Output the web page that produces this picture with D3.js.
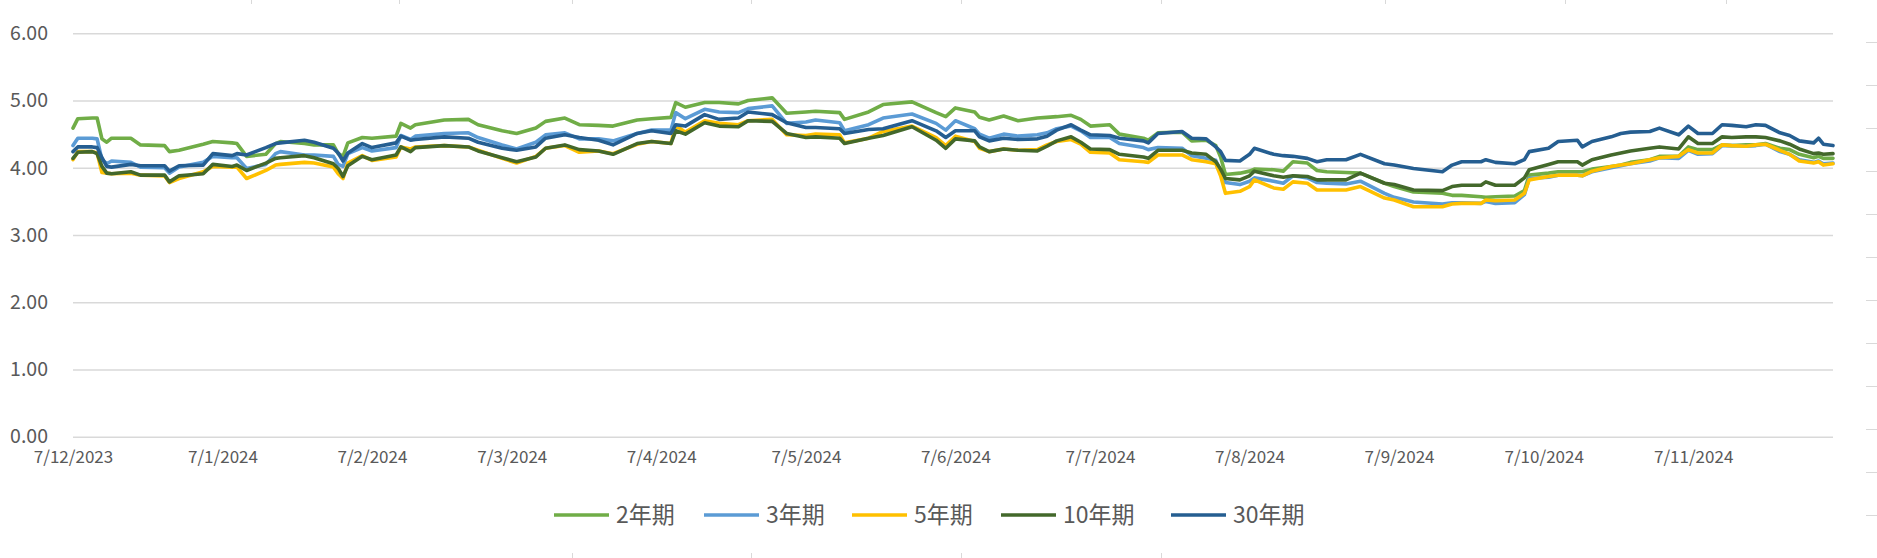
<!DOCTYPE html>
<html><head><meta charset="utf-8">
<script src="https://cdn.jsdelivr.net/npm/d3@7/dist/d3.min.js"></script>
<style>body{margin:0;background:#fff}svg{display:block}</style>
</head><body><svg id="c" width="1877" height="558"></svg>
<script>
const dates = [
"2023-12-07","2023-12-08","2023-12-11","2023-12-12","2023-12-13","2023-12-14","2023-12-15","2023-12-19","2023-12-21","2023-12-26","2023-12-27","2023-12-29",
"2024-01-03","2024-01-05","2024-01-09","2024-01-10","2024-01-12","2024-01-16","2024-01-18","2024-01-19","2024-01-24","2024-01-26","2024-01-30","2024-01-31",
"2024-02-01","2024-02-02","2024-02-05","2024-02-07","2024-02-12","2024-02-13","2024-02-15","2024-02-16","2024-02-22","2024-02-27","2024-02-29",
"2024-03-05","2024-03-08","2024-03-12","2024-03-14","2024-03-18","2024-03-21","2024-03-25","2024-03-28",
"2024-04-02","2024-04-05","2024-04-09","2024-04-10","2024-04-12","2024-04-16","2024-04-19","2024-04-23","2024-04-25","2024-04-30",
"2024-05-03","2024-05-07","2024-05-09","2024-05-14","2024-05-15","2024-05-20","2024-05-23","2024-05-29",
"2024-06-03","2024-06-05","2024-06-07","2024-06-11","2024-06-12","2024-06-14","2024-06-17","2024-06-20","2024-06-24","2024-06-26","2024-06-28",
"2024-07-01","2024-07-03","2024-07-05","2024-07-09","2024-07-11","2024-07-16","2024-07-17","2024-07-19","2024-07-24","2024-07-26","2024-07-29","2024-07-31",
"2024-08-01","2024-08-02","2024-08-05","2024-08-07","2024-08-08","2024-08-12","2024-08-14","2024-08-16","2024-08-19","2024-08-21","2024-08-23","2024-08-27","2024-08-30",
"2024-09-04","2024-09-06","2024-09-10","2024-09-16","2024-09-18","2024-09-20","2024-09-24","2024-09-25","2024-09-27",
"2024-10-01","2024-10-03","2024-10-04","2024-10-08","2024-10-10","2024-10-14","2024-10-15","2024-10-17","2024-10-21","2024-10-23","2024-10-25","2024-10-29","2024-10-31",
"2024-11-04","2024-11-06","2024-11-08","2024-11-11","2024-11-13","2024-11-15","2024-11-18","2024-11-20","2024-11-22","2024-11-25","2024-11-27","2024-11-29",
"2024-12-02","2024-12-03","2024-12-04","2024-12-06"];
const y2 = [
4.59,4.73,4.74,4.74,4.43,4.38,4.44,4.44,4.34,4.33,4.24,4.26,
4.35,4.39,4.37,4.36,4.17,4.20,4.36,4.39,4.36,4.34,4.34,4.21,
4.17,4.37,4.45,4.44,4.47,4.66,4.59,4.64,4.71,4.72,4.64,
4.55,4.51,4.59,4.69,4.74,4.64,4.63,4.62,
4.71,4.73,4.75,4.97,4.90,4.97,4.97,4.95,5.00,5.04,
4.81,4.83,4.84,4.82,4.72,4.83,4.94,4.98,
4.82,4.76,4.89,4.83,4.75,4.71,4.77,4.70,4.74,4.75,4.76,
4.78,4.72,4.62,4.64,4.50,4.44,4.41,4.52,4.53,4.40,4.41,4.33,
4.16,3.90,3.92,3.95,3.98,3.97,3.95,4.09,4.07,3.96,3.94,3.93,3.92,
3.77,3.72,3.64,3.62,3.59,3.59,3.57,3.56,3.57,
3.58,3.66,3.89,3.92,3.94,3.94,3.94,3.98,4.02,4.04,4.08,4.12,4.17,
4.17,4.31,4.27,4.27,4.34,4.33,4.34,4.34,4.36,4.29,4.27,4.20,
4.15,4.17,4.14,4.14];
const y3 = [
4.33,4.44,4.44,4.43,4.12,4.06,4.10,4.08,4.01,4.00,3.92,4.01,
4.08,4.17,4.15,4.15,3.99,4.05,4.21,4.24,4.19,4.19,4.17,4.05,
4.02,4.21,4.30,4.25,4.30,4.48,4.42,4.47,4.51,4.52,4.45,
4.34,4.28,4.38,4.49,4.52,4.43,4.43,4.40,
4.51,4.56,4.56,4.82,4.73,4.87,4.83,4.82,4.88,4.92,
4.66,4.68,4.71,4.67,4.55,4.64,4.74,4.80,
4.66,4.56,4.70,4.58,4.50,4.44,4.50,4.47,4.49,4.52,4.58,
4.62,4.55,4.45,4.45,4.36,4.30,4.27,4.30,4.29,4.18,4.14,4.11,
3.95,3.78,3.75,3.80,3.85,3.80,3.77,3.88,3.85,3.78,3.77,3.76,3.80,
3.62,3.56,3.49,3.46,3.48,3.48,3.47,3.50,3.47,
3.48,3.60,3.84,3.86,3.89,3.89,3.88,3.94,4.00,4.03,4.06,4.10,4.15,
4.14,4.26,4.20,4.21,4.33,4.33,4.32,4.33,4.35,4.24,4.20,4.12,
4.08,4.10,4.06,4.07];
const y5 = [
4.12,4.24,4.24,4.22,3.93,3.92,3.91,3.92,3.89,3.88,3.78,3.84,
3.94,4.02,4.01,4.01,3.84,3.96,4.04,4.05,4.08,4.07,4.01,3.91,
3.84,4.07,4.18,4.11,4.16,4.31,4.28,4.31,4.33,4.31,4.26,
4.14,4.07,4.17,4.29,4.33,4.23,4.25,4.21,
4.35,4.39,4.36,4.63,4.53,4.70,4.66,4.64,4.70,4.72,
4.49,4.48,4.50,4.49,4.37,4.44,4.54,4.62,
4.45,4.33,4.47,4.39,4.29,4.24,4.28,4.26,4.27,4.34,4.39,
4.42,4.35,4.23,4.22,4.12,4.09,4.08,4.19,4.19,4.12,4.09,4.06,
3.88,3.62,3.65,3.72,3.82,3.70,3.68,3.79,3.77,3.67,3.67,3.67,3.72,
3.55,3.52,3.42,3.42,3.46,3.47,3.47,3.52,3.51,
3.52,3.62,3.82,3.87,3.89,3.89,3.88,3.95,4.02,4.04,4.06,4.12,4.15,
4.17,4.27,4.22,4.22,4.34,4.33,4.32,4.34,4.35,4.26,4.20,4.10,
4.07,4.09,4.04,4.06];
const y10 = [
4.14,4.23,4.24,4.21,4.02,3.92,3.91,3.94,3.89,3.89,3.79,3.88,
3.91,4.05,4.02,4.04,3.96,4.07,4.14,4.15,4.18,4.15,4.06,3.99,
3.87,4.03,4.17,4.12,4.19,4.31,4.24,4.30,4.33,4.31,4.25,
4.15,4.09,4.16,4.29,4.34,4.27,4.25,4.20,
4.36,4.39,4.36,4.55,4.50,4.67,4.62,4.61,4.70,4.69,
4.51,4.45,4.46,4.44,4.36,4.44,4.48,4.61,
4.41,4.29,4.43,4.40,4.31,4.24,4.28,4.26,4.25,4.32,4.40,
4.46,4.38,4.28,4.27,4.20,4.16,4.14,4.26,4.26,4.22,4.20,4.09,
3.98,3.84,3.82,3.88,3.95,3.88,3.86,3.88,3.87,3.82,3.82,3.82,3.92,
3.77,3.75,3.67,3.66,3.72,3.74,3.74,3.79,3.74,
3.74,3.85,3.97,4.05,4.09,4.09,4.04,4.12,4.19,4.22,4.25,4.29,4.31,
4.28,4.46,4.36,4.36,4.46,4.45,4.46,4.46,4.45,4.40,4.35,4.28,
4.21,4.22,4.20,4.21];
const y30 = [
4.24,4.31,4.31,4.30,4.15,4.02,4.01,4.05,4.03,4.03,3.95,4.03,
4.04,4.21,4.18,4.21,4.19,4.30,4.36,4.37,4.41,4.38,4.29,4.22,
4.10,4.22,4.36,4.30,4.37,4.47,4.41,4.42,4.46,4.44,4.38,
4.29,4.26,4.31,4.44,4.49,4.45,4.41,4.34,
4.51,4.55,4.51,4.64,4.62,4.79,4.72,4.74,4.83,4.79,
4.67,4.60,4.60,4.58,4.51,4.57,4.58,4.70,
4.55,4.45,4.55,4.55,4.46,4.40,4.44,4.42,4.43,4.47,4.56,
4.64,4.56,4.49,4.48,4.44,4.40,4.37,4.51,4.54,4.44,4.43,4.31,
4.24,4.11,4.10,4.20,4.29,4.20,4.18,4.17,4.14,4.09,4.12,4.12,4.20,
4.06,4.04,3.99,3.94,4.04,4.09,4.09,4.12,4.08,
4.06,4.12,4.24,4.29,4.39,4.41,4.31,4.39,4.46,4.51,4.53,4.54,4.59,
4.49,4.62,4.51,4.51,4.64,4.63,4.61,4.64,4.63,4.52,4.48,4.40,
4.37,4.44,4.35,4.33];
const seriesNames = ["2年期","3年期","5年期","10年期","30年期"];
const seriesValues = [y2, y3, y5, y10, y30];
const colors = ["#70AD47","#5B9BD5","#FFC000","#43682B","#255E91"];
const yTicks = [0,1,2,3,4,5,6];
const xTickDates = ["2023-12-07","2024-01-07","2024-02-07","2024-03-07","2024-04-07","2024-05-07","2024-06-07","2024-07-07","2024-08-07","2024-09-07","2024-10-07","2024-11-07"];

const parse = d3.timeParse("%Y-%m-%d");
const svg = d3.select("#c");
const font = "'Noto Sans CJK SC', 'Liberation Sans', sans-serif";
const x = d3.scaleTime().domain([parse("2023-12-07"), parse("2024-12-06")]).range([73, 1833]);
const y = d3.scaleLinear().domain([0, 6]).range([436.7, 33.3]);

// decorative faint ticks at edges
const deco = svg.append("g").attr("stroke", "#d9d9d9").attr("stroke-width", 1);
[251,399,572,751,961,1161,1385,1565,1726].forEach(px => deco.append("line").attr("x1", px+0.5).attr("x2", px+0.5).attr("y1", 0).attr("y2", 4));
[572,751,961,1161].forEach(px => deco.append("line").attr("x1", px+0.5).attr("x2", px+0.5).attr("y1", 553).attr("y2", 558));
d3.range(12).forEach(i => { const py = 42 + i*43; deco.append("line").attr("x1", 1866).attr("x2", 1877).attr("y1", py+0.5).attr("y2", py+0.5); });

// y gridlines + labels
const yAxis = d3.axisLeft(y).tickValues(yTicks).tickSize(-(1833-73)).tickFormat(d3.format(".2f")).tickPadding(25);
const gy = svg.append("g").attr("transform", "translate(73,0)").call(yAxis);
gy.select(".domain").remove();
gy.selectAll(".tick line").attr("stroke", "#d9d9d9").attr("stroke-width", 1.6);
gy.selectAll(".tick text").attr("fill", "#595959").style("font-family", font).style("font-size", "19.5px");

// x axis labels
const xAxis = d3.axisBottom(x).tickValues(xTickDates.map(parse)).tickSize(0).tickFormat(d3.timeFormat("%-d/%-m/%Y")).tickPadding(14);
const gx = svg.append("g").attr("transform", "translate(0,436.7)").call(xAxis);
gx.select(".domain").remove();
gx.selectAll(".tick text").attr("fill", "#595959").style("font-family", font).style("font-size", "17px");

// lines
const line = d3.line().x((d, i) => x(parse(dates[i]))).y(d => y(d)).curve(d3.curveLinear);
seriesValues.forEach((vals, k) => {
  svg.append("path").datum(vals).attr("d", line).attr("fill", "none")
    .attr("stroke", colors[k]).attr("stroke-width", 3.6).attr("stroke-linejoin", "round").attr("stroke-linecap", "round");
});

// legend
const legendX = [554, 704, 852, 1001, 1171];
const lg = svg.append("g");
seriesNames.forEach((name, k) => {
  lg.append("line").attr("x1", legendX[k]).attr("x2", legendX[k] + 55).attr("y1", 515).attr("y2", 515)
    .attr("stroke", colors[k]).attr("stroke-width", 3.6);
  lg.append("text").attr("x", legendX[k] + 62).attr("y", 515).attr("dy", "0.36em").text(name)
    .attr("fill", "#595959").style("font-family", font).style("font-size", "23px");
});
</script></body></html>
